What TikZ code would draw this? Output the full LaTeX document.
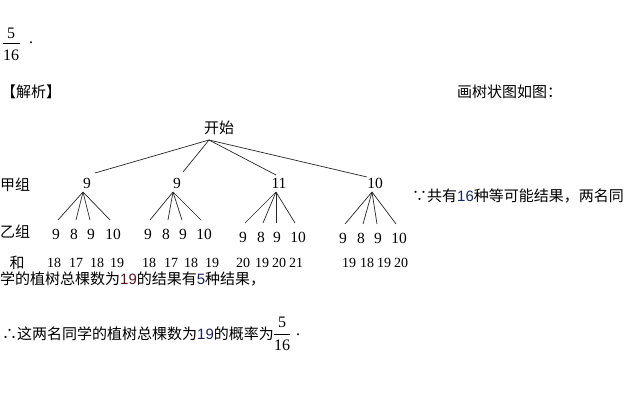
\documentclass[tikz,border=0pt]{standalone}
\usepackage{fontspec}
\setmainfont{Liberation Serif}
\newfontfamily\cjk{Noto Sans CJK SC}
\newfontfamily\lsans{Liberation Sans}
\definecolor{numblue}{RGB}{25,35,100}
\definecolor{numred}{RGB}{90,20,30}
\begin{document}
\begin{tikzpicture}[x=1pt,y=-1pt,
  tn/.style={font=\fontsize{15.5}{15.5}\selectfont, inner sep=0pt},
  sn/.style={font=\fontsize{14}{14}\selectfont, inner sep=0pt},
  fr/.style={font=\fontsize{16}{16}\selectfont, inner sep=0pt},
  cj/.style={font=\cjk\fontsize{15}{15}\selectfont, inner sep=0pt, anchor=west},
  cjc/.style={font=\cjk\fontsize{15}{15}\selectfont, inner sep=0pt},
  ln/.style={line width=0.7pt, black!85}]
\useasboundingbox (0,0) rectangle (630,415);

% top fraction
\node[fr] (ft) at (11,33) {5};
\node[fr] (fb) at (11,55) {16};
\draw[line width=0.6pt] (3,43) -- (20,43);
\node[fr] (fd) at (31,43) {.};

\node[cj] (jx) at (1,92) {【解析】};
\node[cj] (hs) at (457,92) {画树状图如图：};

% tree
\node[cjc] (root) at (219,128) {开始};
\node[cj] (jia) at (0,185) {甲组};
\node[cj] (yi) at (0,232) {乙组};
\node[cjc] (he) at (17,263) {和};

\node[tn] (a1) at (87,183) {9};
\node[tn] (a2) at (177,183) {9};
\node[tn] (a3) at (279,183) {11};
\node[tn] (a4) at (375,183) {10};

\coordinate (rb) at ([xshift=-10pt,yshift=-12pt]root.center);
\draw[ln] (rb) -- ([xshift=8pt,yshift=10pt]a1.center);
\draw[ln] (rb) -- ([xshift=6pt,yshift=11pt]a2.center);
\draw[ln] (rb) -- ([xshift=-3pt,yshift=8pt]a3.center);
\draw[ln] (rb) -- ([xshift=-8pt,yshift=6pt]a4.center);

% children
\foreach \x/\t [count=\i] in {56/9,74/8,91/9,113/10}
  \node[tn] (b1\i) at (\x,234) {\t};
\foreach \x/\t [count=\i] in {148/9,166/8,183/9,204/10}
  \node[tn] (b2\i) at (\x,234) {\t};
\foreach \x/\t [count=\i] in {243/9,261/8,277/9,298/10}
  \node[tn] (b3\i) at (\x,237) {\t};
\foreach \x/\t [count=\i] in {343/9,361/8,378/9,399/10}
  \node[tn] (b4\i) at (\x,238) {\t};

\foreach \p/\px in {1/-4,2/-4,3/-3,4/-3}{
  \foreach \c/\dx in {1/2,2/2,3/-1,4/-3}{
    \draw[ln] ([xshift=\px pt,yshift=-9pt]a\p.center) -- ([xshift=\dx pt,yshift=14pt]b\p\c.center);
  }
}

% sums
\foreach \x/\t [count=\i] in {54/18,76/17,97/18,117/19}
  \node[sn] (s1\i) at (\x,263) {\t};
\foreach \x/\t [count=\i] in {149/18,171/17,191/18,212/19}
  \node[sn] (s2\i) at (\x,263) {\t};
\foreach \x/\t [count=\i] in {243/20,262/19,279/20,296/21}
  \node[sn] (s3\i) at (\x,263) {\t};
\foreach \x/\t [count=\i] in {349/19,367/18,384/19,401/20}
  \node[sn] (s4\i) at (\x,263) {\t};

% explanatory text
\node[cj] (t1) at (412,196) {∵共有{\lsans\color{numblue}16}种等可能结果，两名同};
\node[cj] (t2) at (0,279) {学的植树总棵数为{\lsans\color{numred}19}的结果有{\lsans\color{numblue}5}种结果，};
\node[cj] (t3) at (2,334) {∴这两名同学的植树总棵数为{\lsans\color{numblue}19}的概率为};
\node[fr] (f2t) at (282,322) {5};
\node[fr] (f2b) at (282,345) {16};
\draw[line width=0.6pt] (274,334) -- (290,334);
\node[fr] (f2d) at (298,335) {.};
\end{tikzpicture}
\end{document}
